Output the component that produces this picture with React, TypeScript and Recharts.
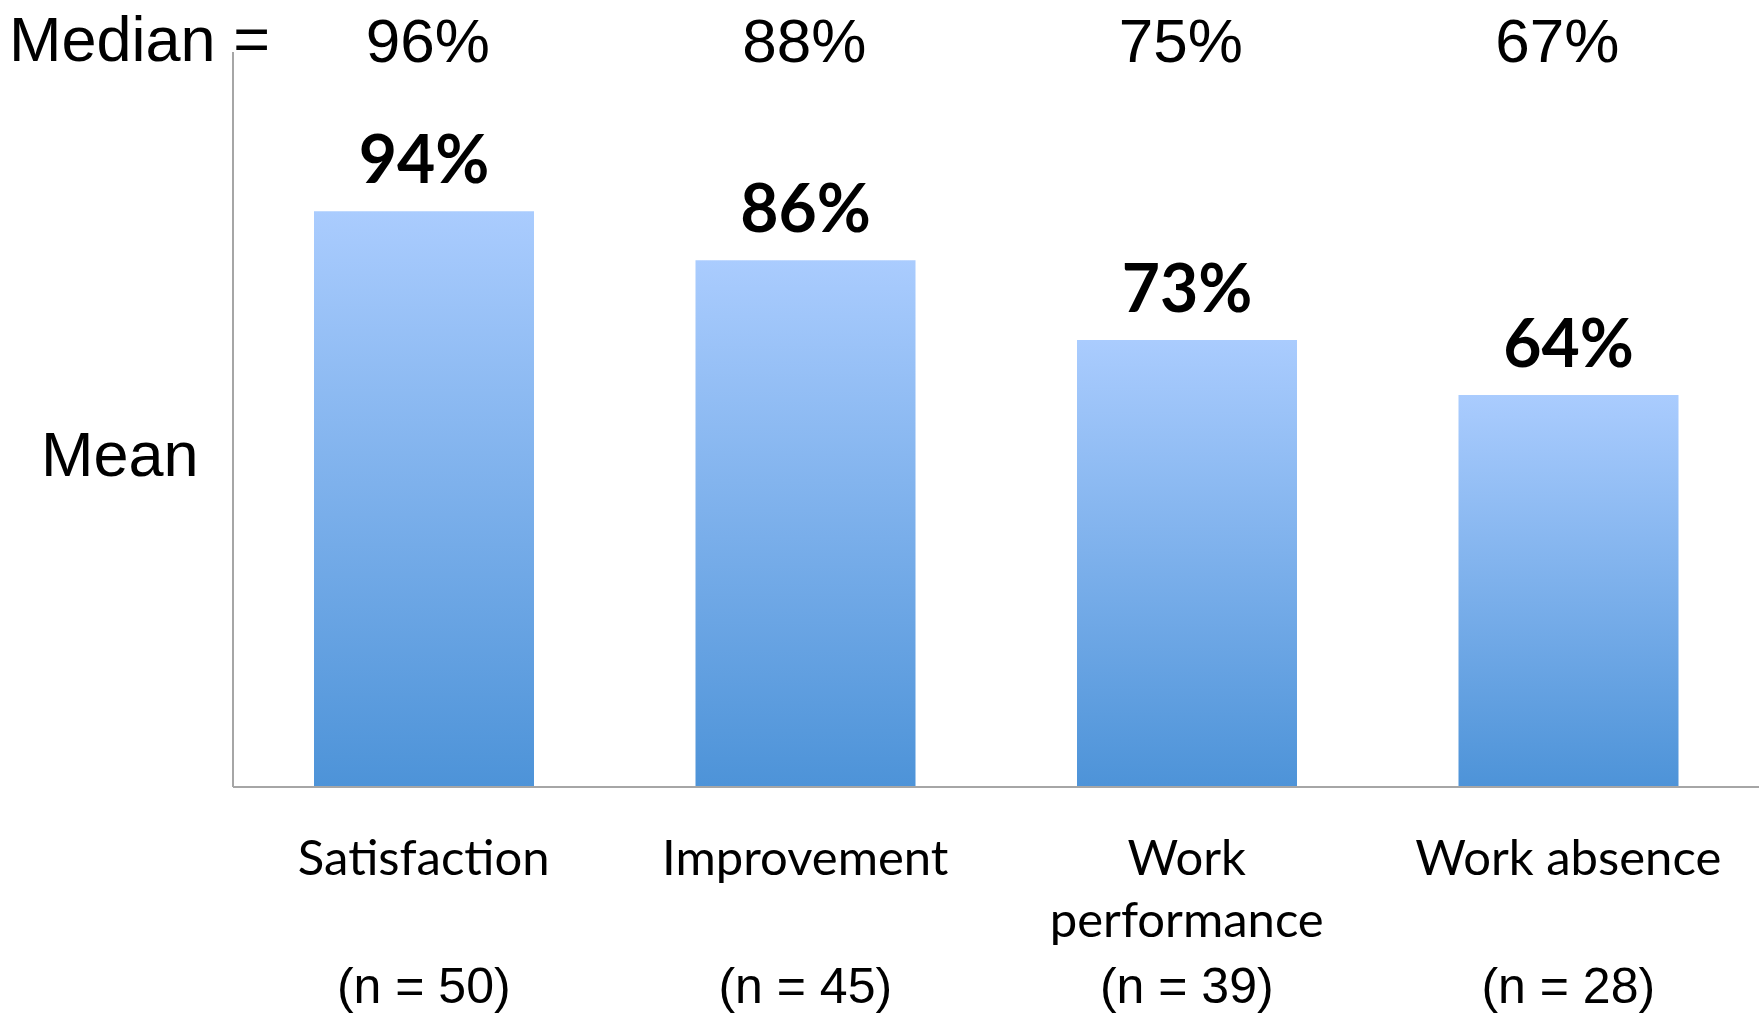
import React from "react";
import { BarChart, Bar, XAxis, YAxis, LabelList } from "recharts";

const categories = ["Satisfaction", "Improvement", "Work performance", "Work absence"];
const categoryLines = [["Satisfaction"], ["Improvement"], ["Work", "performance"], ["Work absence"]];
const sampleSizes = [50, 45, 39, 28];
const meanValues = [0.94, 0.86, 0.73, 0.64];
const medianValues = [0.96, 0.88, 0.75, 0.67];

const data = categories.map((name, i) => ({
  name,
  mean: meanValues[i],
  median: medianValues[i],
  n: sampleSizes[i],
}));

const pct = (v: number) => `${Math.round(v * 100)}%`;

const ARIAL = '"Liberation Sans", Arial, sans-serif';
const CALIBRI = 'Lato, "Open Sans", sans-serif';

function BottomTick(props: any) {
  const { x, y, index } = props;
  const lines = categoryLines[index] || [];
  return (
    <g>
      {lines.map((line, i) => (
        <text
          key={i}
          x={x}
          y={y + 80 + i * 62}
          textAnchor="middle"
          fontFamily={CALIBRI}
          fontSize={49}
          fill="#000"
        >
          {line}
        </text>
      ))}
      <text x={x} y={y + 208} textAnchor="middle" fontFamily={ARIAL} fontSize={50} fill="#000">
        {`(n = ${sampleSizes[index]})`}
      </text>
    </g>
  );
}

// median row sits a little tighter than the bar spacing
function TopTick(props: any) {
  const { x, index } = props;
  const cx = 428 + (x - 424) * 0.987;
  return (
    <text x={cx} y={62} textAnchor="middle" fontFamily={ARIAL} fontSize={62} fill="#000">
      {pct(medianValues[index])}
    </text>
  );
}

export default function App() {
  return (
    <div style={{ position: "absolute", left: 0, top: 0, width: 1759, height: 1015, background: "#fff" }}>
      <div
        style={{
          position: "absolute",
          left: 9,
          top: 8,
          fontFamily: ARIAL,
          fontSize: 63,
          lineHeight: 1,
          whiteSpace: "nowrap",
        }}
      >
        Median =
      </div>
      <div
        style={{
          position: "absolute",
          left: 41,
          top: 423,
          fontFamily: ARIAL,
          fontSize: 63,
          lineHeight: 1,
        }}
      >
        Mean
      </div>
      <BarChart
        width={1759}
        height={1015}
        data={data}
        margin={{ top: 50, right: 0, left: 232, bottom: 0 }}
        barSize={220}
      >
        <defs>
          <linearGradient id="barFill" x1="0" y1="0" x2="0" y2="1">
            <stop offset="0%" stopColor="#AACCFE" />
            <stop offset="100%" stopColor="#4D93D8" />
          </linearGradient>
        </defs>
        <XAxis
          dataKey="name"
          xAxisId="bottom"
          height={228}
          axisLine={{ stroke: "#A6A6A6", strokeWidth: 2 }}
          tickLine={false}
          tick={<BottomTick />}
          interval={0}
        />
        <XAxis
          dataKey="name"
          xAxisId="top"
          orientation="top"
          height={2}
          axisLine={false}
          tickLine={false}
          tick={<TopTick />}
          interval={0}
        />
        <YAxis
          domain={[0, 1.2]}
          width={1}
          tick={false}
          tickLine={false}
          axisLine={{ stroke: "#A6A6A6", strokeWidth: 2 }}
        />
        <Bar dataKey="mean" xAxisId="bottom" fill="url(#barFill)" isAnimationActive={false}>
          <LabelList
            dataKey="mean"
            position="top"
            offset={28}
            formatter={(v: any) => pct(Number(v))}
            style={{ fontFamily: CALIBRI, fontWeight: 700, fontSize: 66, fill: "#000" }}
          />
        </Bar>
      </BarChart>
    </div>
  );
}
